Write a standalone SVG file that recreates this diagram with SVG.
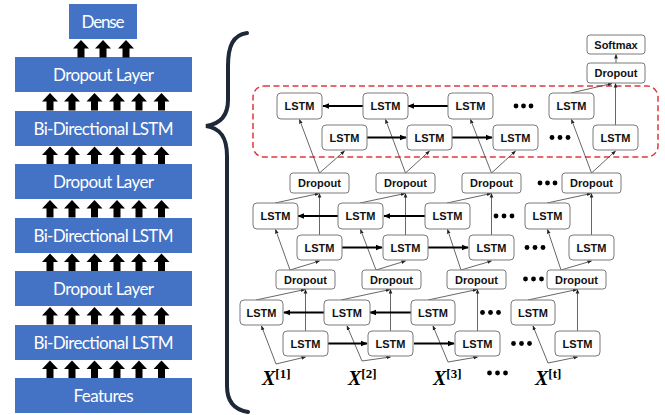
<svg xmlns="http://www.w3.org/2000/svg" width="665" height="415" viewBox="0 0 665 415">
<style>
.blk{fill:#4472C4;}
.bt{fill:#fff;font-family:Lato,"Liberation Sans",sans-serif;font-size:17px;text-anchor:middle;}
.bx{fill:#fff;stroke:#7a7a7a;stroke-width:1;}
.lt{font-family:"Liberation Sans",Arial,sans-serif;font-weight:bold;font-size:11px;text-anchor:middle;fill:#111;}
.th{stroke:#404040;stroke-width:0.8;fill:none;marker-end:url(#ahs);}
.tk{stroke:#000;stroke-width:2;fill:none;marker-end:url(#ahb);}
.dot{fill:#000;}
.xl{font-family:"Liberation Serif","DejaVu Serif",serif;font-weight:bold;font-style:italic;font-size:20px;fill:#000;}
.xs{font-style:normal;font-size:13px;}
</style>
<defs>
<path id="ua" d="M0,0 L8,8.5 L3.5,8.5 L3.5,17.5 L-3.5,17.5 L-3.5,8.5 L-8,8.5 Z" fill="#000"/>
<marker id="ahs" viewBox="0 0 10 10" refX="9" refY="5" markerWidth="4.5" markerHeight="4.5" orient="auto" markerUnits="userSpaceOnUse"><path d="M0,1 L10,5 L0,9 Z" fill="#222"/></marker>
<marker id="ahb" viewBox="0 0 10 10" refX="9" refY="5" markerWidth="7" markerHeight="7" orient="auto" markerUnits="userSpaceOnUse"><path d="M0,1 L10,5 L0,9 Z" fill="#000"/></marker>
</defs>

<!-- Left stack -->
<g id="dense"><rect class="blk" x="69" y="4" width="68" height="35"/><text class="bt" x="103" y="28" textLength="43">Dense</text></g>
<g id="drop3"><rect class="blk" x="15" y="57" width="177" height="35"/><text class="bt" x="103.5" y="81" textLength="101">Dropout Layer</text></g>
<g id="bilstm3"><rect class="blk" x="15" y="111" width="177" height="35"/><text class="bt" x="103.5" y="135" textLength="140">Bi-Directional LSTM</text></g>
<g id="drop2"><rect class="blk" x="15" y="164" width="177" height="35"/><text class="bt" x="103.5" y="188" textLength="101">Dropout Layer</text></g>
<g id="bilstm2"><rect class="blk" x="15" y="218" width="177" height="35"/><text class="bt" x="103.5" y="242" textLength="140">Bi-Directional LSTM</text></g>
<g id="drop1"><rect class="blk" x="15" y="271" width="177" height="35"/><text class="bt" x="103.5" y="295" textLength="101">Dropout Layer</text></g>
<g id="bilstm1"><rect class="blk" x="15" y="325" width="177" height="35"/><text class="bt" x="103.5" y="349" textLength="140">Bi-Directional LSTM</text></g>
<g id="features"><rect class="blk" x="15" y="378" width="177" height="35"/><text class="bt" x="103.5" y="402" textLength="60">Features</text></g>

<g id="stack-arrows">
<use href="#ua" x="81" y="40"/><use href="#ua" x="103" y="40"/><use href="#ua" x="126" y="40"/>
<use href="#ua" x="50" y="93"/><use href="#ua" x="72" y="93"/><use href="#ua" x="94.5" y="93"/><use href="#ua" x="117" y="93"/><use href="#ua" x="139" y="93"/><use href="#ua" x="161.5" y="93"/>
<use href="#ua" x="50" y="146.5"/><use href="#ua" x="72" y="146.5"/><use href="#ua" x="94.5" y="146.5"/><use href="#ua" x="117" y="146.5"/><use href="#ua" x="139" y="146.5"/><use href="#ua" x="161.5" y="146.5"/>
<use href="#ua" x="50" y="200"/><use href="#ua" x="72" y="200"/><use href="#ua" x="94.5" y="200"/><use href="#ua" x="117" y="200"/><use href="#ua" x="139" y="200"/><use href="#ua" x="161.5" y="200"/>
<use href="#ua" x="50" y="253.5"/><use href="#ua" x="72" y="253.5"/><use href="#ua" x="94.5" y="253.5"/><use href="#ua" x="117" y="253.5"/><use href="#ua" x="139" y="253.5"/><use href="#ua" x="161.5" y="253.5"/>
<use href="#ua" x="50" y="307"/><use href="#ua" x="72" y="307"/><use href="#ua" x="94.5" y="307"/><use href="#ua" x="117" y="307"/><use href="#ua" x="139" y="307"/><use href="#ua" x="161.5" y="307"/>
<use href="#ua" x="50" y="360.5"/><use href="#ua" x="72" y="360.5"/><use href="#ua" x="94.5" y="360.5"/><use href="#ua" x="117" y="360.5"/><use href="#ua" x="139" y="360.5"/><use href="#ua" x="161.5" y="360.5"/>
</g>

<!-- Brace -->
<path id="brace" d="M247,33 C233,35 228,46 228,66 L228,100 C228,116 220,124 206,126 C220,128 227,137 227,156 L227,386 C227,402 235,410 248,412" fill="none" stroke="#1e2838" stroke-width="4" stroke-linecap="round"/>

<!-- Red dashed region -->
<rect id="region" x="253" y="86" width="405" height="71" rx="11" fill="none" stroke="#e0393b" stroke-width="1.5" stroke-dasharray="6 3.5"/>

<!-- Connectors -->
<g id="connectors">
<line class="th" x1="276" y1="364" x2="261.5" y2="326"/><line class="th" x1="276" y1="364" x2="305.5" y2="357"/>
<line class="th" x1="362" y1="361" x2="347" y2="326"/><line class="th" x1="362" y1="361" x2="390.5" y2="357"/>
<line class="th" x1="448" y1="362" x2="433" y2="326"/><line class="th" x1="448" y1="362" x2="477.5" y2="357"/>
<line class="th" x1="548" y1="363" x2="533" y2="326"/><line class="th" x1="548" y1="363" x2="577.5" y2="357"/>
<line class="th" x1="305.5" y1="331" x2="305.5" y2="289.5"/><line class="th" x1="256" y1="300" x2="305" y2="289.5"/>
<line class="th" x1="390.5" y1="331" x2="390.5" y2="289.5"/><line class="th" x1="341" y1="300" x2="390" y2="289.5"/>
<line class="th" x1="477.5" y1="331" x2="477.5" y2="289.5"/><line class="th" x1="428" y1="300" x2="477" y2="289.5"/>
<line class="th" x1="577.5" y1="331" x2="577.5" y2="289.5"/><line class="th" x1="528" y1="300" x2="577" y2="289.5"/>
<line class="th" x1="290" y1="270" x2="275.5" y2="229.5"/><line class="th" x1="290" y1="270" x2="319.5" y2="261"/>
<line class="th" x1="376" y1="270" x2="360.5" y2="229.5"/><line class="th" x1="376" y1="270" x2="405.5" y2="261"/>
<line class="th" x1="461" y1="270" x2="447.5" y2="229.5"/><line class="th" x1="461" y1="270" x2="491.5" y2="261"/>
<line class="th" x1="561" y1="270" x2="547.5" y2="229.5"/><line class="th" x1="561" y1="270" x2="591.5" y2="261"/>
<line class="th" x1="319.5" y1="235" x2="319.5" y2="193.5"/><line class="th" x1="275" y1="203" x2="319" y2="193.5"/>
<line class="th" x1="405.5" y1="235" x2="405.5" y2="193.5"/><line class="th" x1="360" y1="203" x2="405" y2="193.5"/>
<line class="th" x1="491.5" y1="235" x2="491.5" y2="193.5"/><line class="th" x1="447" y1="203" x2="491" y2="193.5"/>
<line class="th" x1="591.5" y1="235" x2="591.5" y2="193.5"/><line class="th" x1="547" y1="203" x2="591" y2="193.5"/>
<line class="th" x1="319.5" y1="173" x2="299.5" y2="119.5"/><line class="th" x1="319.5" y1="173" x2="344.5" y2="151"/>
<line class="th" x1="405.5" y1="173" x2="385.5" y2="119.5"/><line class="th" x1="405.5" y1="173" x2="429.5" y2="151"/>
<line class="th" x1="491.5" y1="173" x2="470.5" y2="119.5"/><line class="th" x1="491.5" y1="173" x2="515.5" y2="151"/>
<line class="th" x1="591.5" y1="173" x2="571.5" y2="119.5"/><line class="th" x1="591.5" y1="173" x2="615.5" y2="151"/>
<line class="th" x1="615.5" y1="125" x2="615.5" y2="83.5"/><line class="th" x1="571" y1="93" x2="612" y2="83.5"/>
<line class="th" x1="616" y1="63" x2="616" y2="54.5"/>
<line class="tk" x1="363" y1="106" x2="323" y2="106"/><line class="tk" x1="448" y1="106" x2="408" y2="106"/>
<line class="tk" x1="367" y1="137.5" x2="406" y2="137.5"/><line class="tk" x1="452" y1="137.5" x2="492" y2="137.5"/>
<line class="tk" x1="338" y1="216" x2="298" y2="216"/><line class="tk" x1="425" y1="216" x2="384" y2="216"/>
<line class="tk" x1="342" y1="247.5" x2="382" y2="247.5"/><line class="tk" x1="428" y1="247.5" x2="468" y2="247.5"/>
<line class="tk" x1="324" y1="312.5" x2="284" y2="312.5"/><line class="tk" x1="411" y1="312.5" x2="370" y2="312.5"/>
<line class="tk" x1="328" y1="343.5" x2="367" y2="343.5"/><line class="tk" x1="414" y1="343.5" x2="454" y2="343.5"/>
</g>

<!-- Ellipsis dots -->
<g id="dots">
<circle class="dot" cx="516" cy="106" r="2.4"/><circle class="dot" cx="523.5" cy="106" r="2.4"/><circle class="dot" cx="531" cy="106" r="2.4"/>
<circle class="dot" cx="552" cy="137.5" r="2.4"/><circle class="dot" cx="560" cy="137.5" r="2.4"/><circle class="dot" cx="568" cy="137.5" r="2.4"/>
<circle class="dot" cx="540" cy="183" r="2.4"/><circle class="dot" cx="547.5" cy="183" r="2.4"/><circle class="dot" cx="555" cy="183" r="2.4"/>
<circle class="dot" cx="496" cy="216" r="2.4"/><circle class="dot" cx="504" cy="216" r="2.4"/><circle class="dot" cx="512" cy="216" r="2.4"/>
<circle class="dot" cx="527" cy="247.5" r="2.4"/><circle class="dot" cx="535" cy="247.5" r="2.4"/><circle class="dot" cx="543" cy="247.5" r="2.4"/>
<circle class="dot" cx="525.5" cy="279" r="2.4"/><circle class="dot" cx="533.5" cy="279" r="2.4"/><circle class="dot" cx="541.5" cy="279" r="2.4"/>
<circle class="dot" cx="482.5" cy="312.5" r="2.4"/><circle class="dot" cx="490.5" cy="312.5" r="2.4"/><circle class="dot" cx="498.5" cy="312.5" r="2.4"/>
<circle class="dot" cx="513.5" cy="343.5" r="2.4"/><circle class="dot" cx="521.5" cy="343.5" r="2.4"/><circle class="dot" cx="529.5" cy="343.5" r="2.4"/>
<circle class="dot" cx="489.5" cy="373" r="2.4"/><circle class="dot" cx="497.5" cy="373" r="2.4"/><circle class="dot" cx="505.5" cy="373" r="2.4"/>
</g>

<g id="softmax"><rect class="bx" x="587" y="35" width="58" height="19" rx="3"/><text class="lt" x="616" y="48.5">Softmax</text></g>
<g id="dropout-final"><rect class="bx" x="587" y="63" width="58" height="20" rx="3"/><text class="lt" x="616" y="77">Dropout</text></g>

<g id="l3b1"><rect class="bx" x="277" y="93" width="45" height="26" rx="4"/><text class="lt" x="299.5" y="110">LSTM</text></g>
<g id="l3b2"><rect class="bx" x="363" y="93" width="45" height="26" rx="4"/><text class="lt" x="385.5" y="110">LSTM</text></g>
<g id="l3b3"><rect class="bx" x="448" y="93" width="45" height="26" rx="4"/><text class="lt" x="470.5" y="110">LSTM</text></g>
<g id="l3b4"><rect class="bx" x="549" y="93" width="45" height="26" rx="4"/><text class="lt" x="571.5" y="110">LSTM</text></g>
<g id="l3f1"><rect class="bx" x="322" y="125" width="45" height="25" rx="4"/><text class="lt" x="344.5" y="141.5">LSTM</text></g>
<g id="l3f2"><rect class="bx" x="407" y="125" width="45" height="25" rx="4"/><text class="lt" x="429.5" y="141.5">LSTM</text></g>
<g id="l3f3"><rect class="bx" x="493" y="125" width="45" height="25" rx="4"/><text class="lt" x="515.5" y="141.5">LSTM</text></g>
<g id="l3f4"><rect class="bx" x="593" y="125" width="45" height="25" rx="4"/><text class="lt" x="615.5" y="141.5">LSTM</text></g>

<g id="dA1"><rect class="bx" x="290" y="173" width="59" height="20" rx="3"/><text class="lt" x="319.5" y="187">Dropout</text></g>
<g id="dA2"><rect class="bx" x="376" y="173" width="59" height="20" rx="3"/><text class="lt" x="405.5" y="187">Dropout</text></g>
<g id="dA3"><rect class="bx" x="462" y="173" width="59" height="20" rx="3"/><text class="lt" x="491.5" y="187">Dropout</text></g>
<g id="dA4"><rect class="bx" x="562" y="173" width="59" height="20" rx="3"/><text class="lt" x="591.5" y="187">Dropout</text></g>

<g id="l2b1"><rect class="bx" x="253" y="203" width="45" height="26" rx="4"/><text class="lt" x="275.5" y="220">LSTM</text></g>
<g id="l2b2"><rect class="bx" x="338" y="203" width="45" height="26" rx="4"/><text class="lt" x="360.5" y="220">LSTM</text></g>
<g id="l2b3"><rect class="bx" x="425" y="203" width="45" height="26" rx="4"/><text class="lt" x="447.5" y="220">LSTM</text></g>
<g id="l2b4"><rect class="bx" x="525" y="203" width="45" height="26" rx="4"/><text class="lt" x="547.5" y="220">LSTM</text></g>
<g id="l2f1"><rect class="bx" x="297" y="235" width="45" height="25" rx="4"/><text class="lt" x="319.5" y="251.5">LSTM</text></g>
<g id="l2f2"><rect class="bx" x="383" y="235" width="45" height="25" rx="4"/><text class="lt" x="405.5" y="251.5">LSTM</text></g>
<g id="l2f3"><rect class="bx" x="469" y="235" width="45" height="25" rx="4"/><text class="lt" x="491.5" y="251.5">LSTM</text></g>
<g id="l2f4"><rect class="bx" x="569" y="235" width="45" height="25" rx="4"/><text class="lt" x="591.5" y="251.5">LSTM</text></g>

<g id="dB1"><rect class="bx" x="276" y="270" width="59" height="19" rx="3"/><text class="lt" x="305.5" y="283.5">Dropout</text></g>
<g id="dB2"><rect class="bx" x="362" y="270" width="59" height="19" rx="3"/><text class="lt" x="391.5" y="283.5">Dropout</text></g>
<g id="dB3"><rect class="bx" x="447" y="270" width="59" height="19" rx="3"/><text class="lt" x="476.5" y="283.5">Dropout</text></g>
<g id="dB4"><rect class="bx" x="547" y="270" width="59" height="19" rx="3"/><text class="lt" x="576.5" y="283.5">Dropout</text></g>

<g id="l1b1"><rect class="bx" x="240" y="300" width="43" height="25" rx="4"/><text class="lt" x="261.5" y="316.5">LSTM</text></g>
<g id="l1b2"><rect class="bx" x="324" y="300" width="46" height="25" rx="4"/><text class="lt" x="347" y="316.5">LSTM</text></g>
<g id="l1b3"><rect class="bx" x="411" y="300" width="44" height="25" rx="4"/><text class="lt" x="433" y="316.5">LSTM</text></g>
<g id="l1b4"><rect class="bx" x="511" y="300" width="44" height="25" rx="4"/><text class="lt" x="533" y="316.5">LSTM</text></g>
<g id="l1f1"><rect class="bx" x="283" y="331" width="45" height="25" rx="4"/><text class="lt" x="305.5" y="347.5">LSTM</text></g>
<g id="l1f2"><rect class="bx" x="368" y="331" width="45" height="25" rx="4"/><text class="lt" x="390.5" y="347.5">LSTM</text></g>
<g id="l1f3"><rect class="bx" x="455" y="331" width="45" height="25" rx="4"/><text class="lt" x="477.5" y="347.5">LSTM</text></g>
<g id="l1f4"><rect class="bx" x="555" y="331" width="45" height="25" rx="4"/><text class="lt" x="577.5" y="347.5">LSTM</text></g>

<g id="x1"><text class="xl" x="262" y="385">X<tspan class="xs" dy="-7">[1]</tspan></text></g>
<g id="x2"><text class="xl" x="348" y="385">X<tspan class="xs" dy="-7">[2]</tspan></text></g>
<g id="x3"><text class="xl" x="433" y="385">X<tspan class="xs" dy="-7">[3]</tspan></text></g>
<g id="xt"><text class="xl" x="535" y="385">X<tspan class="xs" dy="-7">[t]</tspan></text></g>
</svg>
